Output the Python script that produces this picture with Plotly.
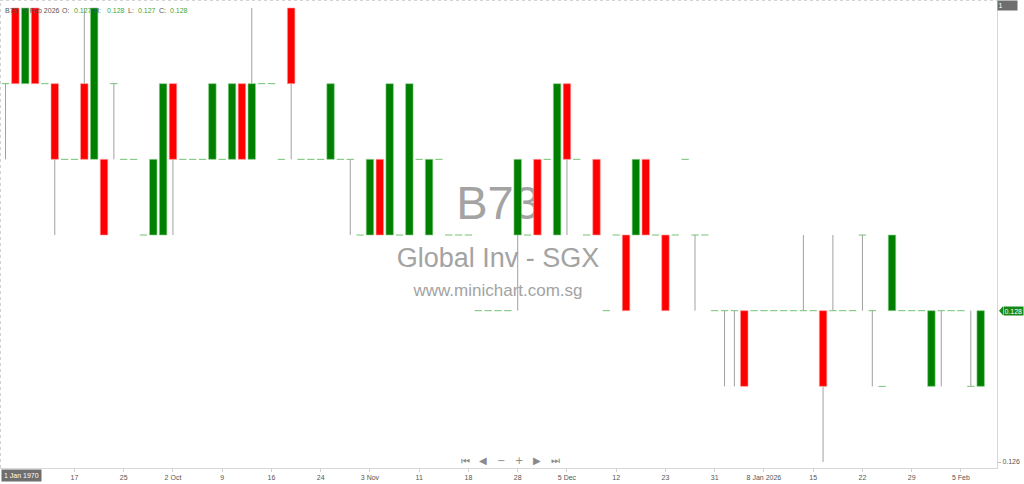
import plotly.graph_objects as go

# OHLC for B73 (Global Inv - SGX), one entry per bar, 8 Sep 2025 .. 9 Feb 2026
opens = [0.131, 0.132, 0.131, 0.132, 0.131, 0.131, 0.130, 0.130, 0.131, 0.130,
         0.130, 0.131, 0.130, 0.130, 0.129, 0.129, 0.129, 0.131, 0.130, 0.130,
         0.130, 0.130, 0.130, 0.130, 0.131, 0.130, 0.131, 0.131, 0.130, 0.132,
         0.130, 0.130, 0.130, 0.130, 0.130, 0.130, 0.129, 0.129, 0.130, 0.129,
         0.129, 0.129, 0.130, 0.129, 0.130, 0.129, 0.129, 0.129, 0.128, 0.128,
         0.128, 0.128, 0.129, 0.129, 0.130, 0.130, 0.129, 0.131, 0.130, 0.129,
         0.130, 0.128, 0.129, 0.129, 0.129, 0.130, 0.129, 0.129, 0.129, 0.130,
         0.129, 0.129, 0.128, 0.128, 0.128, 0.128, 0.128, 0.128, 0.128, 0.128,
         0.128, 0.128, 0.128, 0.128, 0.128, 0.128, 0.128, 0.129, 0.128, 0.127,
         0.128, 0.128, 0.128, 0.128, 0.127, 0.128, 0.128, 0.128, 0.127, 0.127]
highs = [0.131, 0.132, 0.132, 0.132, 0.131, 0.131, 0.130, 0.130, 0.132, 0.132,
         0.130, 0.131, 0.130, 0.130, 0.129, 0.130, 0.131, 0.131, 0.130, 0.130,
         0.130, 0.131, 0.130, 0.131, 0.131, 0.132, 0.131, 0.131, 0.130, 0.132,
         0.130, 0.130, 0.130, 0.131, 0.130, 0.130, 0.129, 0.130, 0.130, 0.131,
         0.129, 0.131, 0.130, 0.130, 0.130, 0.129, 0.129, 0.129, 0.128, 0.128,
         0.128, 0.128, 0.130, 0.129, 0.130, 0.130, 0.131, 0.131, 0.130, 0.129,
         0.130, 0.128, 0.129, 0.129, 0.130, 0.130, 0.129, 0.129, 0.129, 0.130,
         0.129, 0.129, 0.128, 0.128, 0.128, 0.128, 0.128, 0.128, 0.128, 0.128,
         0.128, 0.129, 0.128, 0.128, 0.129, 0.128, 0.128, 0.129, 0.128, 0.127,
         0.129, 0.128, 0.128, 0.128, 0.128, 0.128, 0.128, 0.128, 0.128, 0.128]
lows = [0.130, 0.131, 0.131, 0.131, 0.131, 0.129, 0.130, 0.130, 0.130, 0.130,
        0.129, 0.130, 0.130, 0.130, 0.129, 0.129, 0.129, 0.129, 0.130, 0.130,
        0.130, 0.130, 0.130, 0.130, 0.130, 0.130, 0.131, 0.131, 0.130, 0.130,
        0.130, 0.130, 0.130, 0.130, 0.130, 0.129, 0.129, 0.129, 0.129, 0.129,
        0.129, 0.129, 0.130, 0.129, 0.130, 0.129, 0.129, 0.129, 0.128, 0.128,
        0.128, 0.128, 0.128, 0.129, 0.129, 0.130, 0.129, 0.129, 0.130, 0.129,
        0.129, 0.128, 0.129, 0.128, 0.129, 0.129, 0.129, 0.128, 0.129, 0.130,
        0.128, 0.129, 0.128, 0.127, 0.127, 0.127, 0.128, 0.128, 0.128, 0.128,
        0.128, 0.128, 0.128, 0.126, 0.128, 0.128, 0.128, 0.128, 0.127, 0.127,
        0.128, 0.128, 0.128, 0.128, 0.127, 0.127, 0.128, 0.128, 0.127, 0.127]
closes = [0.131, 0.131, 0.132, 0.131, 0.131, 0.130, 0.130, 0.130, 0.130, 0.132,
          0.129, 0.131, 0.130, 0.130, 0.129, 0.130, 0.131, 0.130, 0.130, 0.130,
          0.130, 0.131, 0.130, 0.131, 0.130, 0.131, 0.131, 0.131, 0.130, 0.131,
          0.130, 0.130, 0.130, 0.131, 0.130, 0.130, 0.129, 0.130, 0.129, 0.131,
          0.129, 0.131, 0.130, 0.130, 0.130, 0.129, 0.129, 0.129, 0.128, 0.128,
          0.128, 0.128, 0.130, 0.129, 0.129, 0.130, 0.131, 0.130, 0.130, 0.129,
          0.129, 0.128, 0.129, 0.128, 0.130, 0.129, 0.129, 0.128, 0.129, 0.130,
          0.129, 0.129, 0.128, 0.128, 0.128, 0.127, 0.128, 0.128, 0.128, 0.128,
          0.128, 0.128, 0.128, 0.127, 0.128, 0.128, 0.128, 0.129, 0.128, 0.127,
          0.129, 0.128, 0.128, 0.128, 0.128, 0.128, 0.128, 0.128, 0.127, 0.128]

# date tick labels and the bar index they sit under
tick_pos = [7, 12, 17, 22, 27, 32, 37, 42, 47, 52, 57, 62, 67, 72, 77, 82, 87, 92, 97]
tick_text = ["17", "25", "2 Oct", "9", "16", "24", "3 Nov", "11", "18", "28",
             "5 Dec", "12", "23", "31", "8 Jan 2026", "15", "22", "29", "5 Feb"]

UP = "#008000"
DOWN = "#ff0000"
WICK = "#a0a0a0"
DOJI = "#74c274"
TXT = "#555555"
FONT = "Liberation Sans"

n = len(opens)
idx = list(range(n))

fig = go.Figure()

# bodies
bi = [i for i in idx if opens[i] != closes[i]]
fig.add_trace(go.Bar(
    x=bi,
    base=[min(opens[i], closes[i]) for i in bi],
    y=[abs(closes[i] - opens[i]) for i in bi],
    width=0.76,
    marker=dict(color=[UP if closes[i] > opens[i] else DOWN for i in bi],
                line=dict(color=["#8fd08f" if closes[i] > opens[i] else "#ff9a9a" for i in bi],
                          width=0.6)),
    hoverinfo="skip", showlegend=False))

# wicks, split around the body so they never cross it
wx, wy = [], []
for i in idx:
    top = max(opens[i], closes[i])
    bot = min(opens[i], closes[i])
    if highs[i] > top:
        wx += [i, i, None]
        wy += [top, highs[i], None]
    if lows[i] < bot:
        wx += [i, i, None]
        wy += [lows[i], bot, None]
fig.add_trace(go.Scatter(x=wx, y=wy, mode="lines", line=dict(color=WICK, width=1),
                         hoverinfo="skip", showlegend=False))

# doji marks (open == close)
dx, dy = [], []
for i in idx:
    if opens[i] == closes[i]:
        dx += [i - 0.37, i + 0.37, None]
        dy += [opens[i], opens[i], None]
fig.add_trace(go.Scatter(x=dx, y=dy, mode="lines", line=dict(color=DOJI, width=1),
                         hoverinfo="skip", showlegend=False))

anns = []
# header line
hdr = [(3, "B73", TXT), (22, "9 Feb 2026", TXT), (60, "O:", TXT),
       (72, f"{opens[-1]:.3f}", "#3aa83a"), (92, "H:", TXT),
       (105, f"{highs[-1]:.3f}", "#3aa83a"), (126, "L:", TXT),
       (136, f"{lows[-1]:.3f}", "#3aa83a"), (157, "C:", TXT),
       (168, f"{closes[-1]:.3f}", "#3aa83a")]
for px, t, c in hdr:
    anns.append(dict(xref="paper", yref="paper", x=px / 997, y=1 - 10 / 468, text=t,
                     showarrow=False, xanchor="left", yanchor="middle",
                     font=dict(size=7, color=c, family=FONT)))

# crosshair / price boxes
anns.append(dict(xref="paper", yref="paper", x=1.0, y=1 - 6 / 468, text="1 ",
                 showarrow=False, xanchor="left", yanchor="middle", align="left",
                 bgcolor="#6e6e6e", width=18, height=8, borderpad=0.5,
                 font=dict(size=7, color="white", family=FONT)))
anns.append(dict(xref="paper", yref="y", x=1003 / 997, y=closes[-1], text=f"{closes[-1]:.3f}",
                 showarrow=False, xanchor="left", yanchor="middle",
                 bgcolor="#168a16", borderpad=0.5,
                 font=dict(size=7, color="white", family=FONT)))
anns.append(dict(xref="paper", yref="paper", x=0.001, y=-1 / 468, text="1 Jan 1970",
                 showarrow=False, xanchor="left", yanchor="top",
                 bgcolor="#6e6e6e", borderpad=2,
                 font=dict(size=7, color="white", family=FONT)))

# navigation buttons
for px, t in [(465, "⏮"), (483, "◀"), (501, "−"), (519, "+"), (537, "▶"), (555, "⏭")]:
    anns.append(dict(xref="paper", yref="paper", x=px / 997, y=1 - 460 / 468, text=t,
                     showarrow=False, xanchor="center", yanchor="middle",
                     font=dict(size=10, color="#8a8a8a", family="DejaVu Sans")))

shapes = [
    dict(type="line", xref="paper", yref="paper", x0=0, x1=1, y0=1, y1=1,
         line=dict(color="#a8a8a8", width=1, dash="dot")),
    dict(type="line", xref="paper", yref="paper", x0=0, x1=0, y0=0, y1=1,
         line=dict(color="#a8a8a8", width=1, dash="dot")),
    dict(type="path", xref="paper", yref="y",
         path=f"M {1003/997} {closes[-1] + 0.00006} L {999/997} {closes[-1]} L {1003/997} {closes[-1] - 0.00006} Z",
         fillcolor="#168a16", line=dict(width=0)),
]

# watermark, drawn below the candles
for txt, size, ypx in [("B73", 47, 198), ("Global Inv - SGX", 27, 255), ("www.minichart.com.sg", 17, 288)]:
    yc = 1 - ypx / 468
    shapes.append(dict(type="rect", xref="paper", yref="paper", layer="below",
                       x0=0.352, x1=0.647, y0=yc - 0.03, y1=yc + 0.03,
                       line=dict(width=0), fillcolor="rgba(0,0,0,0)",
                       label=dict(text=txt, textposition="middle center",
                                  font=dict(family=FONT, size=size, color="#a3a3a3"))))

fig.update_layout(
    width=1024, height=484,
    margin=dict(l=0, r=27, t=0, b=16),
    paper_bgcolor="white", plot_bgcolor="white",
    showlegend=False, barmode="overlay",
    annotations=anns, shapes=shapes,
    font=dict(family=FONT, size=7, color=TXT),
    xaxis=dict(range=[-0.56, 100.66], tickmode="array", tickvals=tick_pos, ticktext=tick_text,
               showgrid=False, zeroline=False, showline=True, linecolor="#d8d8d8",
               ticks="outside", ticklen=3, tickcolor="#cfcfcf", tickfont=dict(size=7, color=TXT)),
    yaxis=dict(range=[0.125921, 0.1321057], side="right", tickmode="array",
               tickvals=[0.126], ticktext=["0.126"], showgrid=False, zeroline=False,
               showline=True, linecolor="#d8d8d8", ticks="outside", ticklen=3,
               tickcolor="#bdbdbd", tickfont=dict(size=7, color=TXT)),
)

# the page's default body margin would push the figure off by 8px
fig.write_html("out.html", config={"displayModeBar": False},
               post_script="document.body.style.margin='0';")
